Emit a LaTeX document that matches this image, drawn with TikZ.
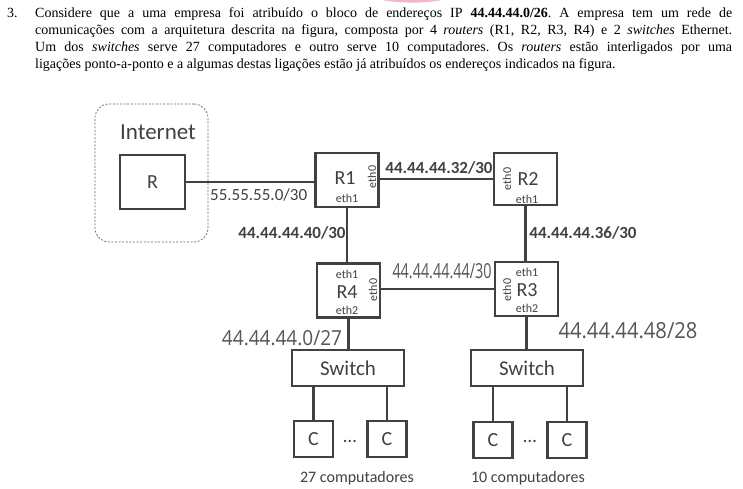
\documentclass[tikz,border=0pt]{standalone}
\usepackage{fontspec}
\setmainfont{Liberation Serif}
\newfontfamily\diag{Carlito}
\newfontfamily\hand{Open Sans}
\usetikzlibrary{positioning}
\definecolor{ink}{RGB}{65,65,65}
\definecolor{pen}{RGB}{85,85,90}
\definecolor{marker}{RGB}{232,120,170}
\frenchspacing

\tikzset{
  link/.style={draw=ink, line width=2.3pt},
  dev/.style={draw=ink, line width=2.3pt, fill=white, inner sep=0pt},
  rtr/.style={dev, minimum width=63pt, minimum height=54pt},
  comp/.style={dev, minimum width=39pt, minimum height=36pt, font=\diag\fontsize{20}{22}\selectfont, text=ink},
  sw/.style={dev, minimum width=112pt, minimum height=36pt, font=\diag\fontsize{21}{23}\selectfont, text=ink},
  rname/.style={font=\diag\fontsize{20}{22}\selectfont, text=ink, inner sep=0pt},
  port/.style={font=\diag\fontsize{12}{13}\selectfont, text=ink, inner sep=0pt},
  net/.style={font=\diag\bfseries\fontsize{17}{18}\selectfont, text=ink, inner sep=0pt},
  plainnet/.style={font=\diag\fontsize{17}{18}\selectfont, text=ink, inner sep=0pt},
  handnote/.style={text=pen, inner sep=0pt},
  caption/.style={font=\diag\fontsize{16}{17}\selectfont, text=ink, inner sep=0pt},
  txtline/.style={anchor=base west, inner sep=0pt, font=\fontsize{14}{17}\selectfont, text=black},
}

% a handwritten address, stretched to a given width and height
\newcommand\handaddr[3]{\resizebox{#1}{#2}{\hand #3}}

\begin{document}
\begin{tikzpicture}[x=1pt, y=-1pt]
\useasboundingbox[fill=white] (0,0) rectangle (743,489);

% stray highlighter stroke at the top edge
\fill[marker, opacity=0.55] (382,0) .. controls (400,3.5) and (425,3.5) .. (442,0) -- cycle;

% exercise statement
\node[txtline] (num) at (7,18) {3.};
\node[txtline] (l1) at (35,18) {\makebox[697pt][s]{Considere que a uma empresa foi atribuído o bloco de endereços IP \textbf{44.44.44.0/26}. A empresa tem um rede de}};
\node[txtline] (l2) at (35,35) {\makebox[697pt][s]{comunicações com a arquitetura descrita na figura, composta por 4 \textit{routers} (R1, R2, R3, R4) e 2 \textit{switches} Ethernet.}};
\node[txtline] (l3) at (35,52) {\makebox[697pt][s]{Um dos \textit{switches} serve 27 computadores e outro serve 10 computadores. Os \textit{routers} estão interligados por uma}};
\node[txtline] (l4) at (35,69) {ligações ponto-a-ponto e a algumas destas ligações estão já atribuídos os endereços indicados na figura.};

% Internet cloud area
\node[draw=ink!80, line width=0.7pt, dash pattern=on 2pt off 1.6pt, rounded corners=14pt,
      minimum width=113pt, minimum height=138pt, inner sep=0pt] (inet) at (151.5,173) {};
\node[font=\diag\fontsize{23}{25}\selectfont, text=ink, inner sep=0pt] (inetlbl) at (158,132) {Internet};
\node[comp, minimum width=65pt, minimum height=54pt] (R) at (152.5,182) {R};

% routers
\node[rtr] (R1) at (347,180) {};
\node[rtr, minimum width=63pt, minimum height=52pt] (R2) at (525.5,179) {};
\node[rtr] (R4) at (348.5,290.5) {};
\node[rtr] (R3) at (526.5,289) {};

\node[rname] (R1n) at (345,178) {R1};
\node[port] (R1e1) at (347,198) {eth1};
\node[port, rotate=90] (R1e0) at (372,177) {eth0};

\node[rname] (R2n) at (528,179) {R2};
\node[port] (R2e1) at (527,199) {eth1};
\node[port, rotate=90] (R2e0) at (507,179) {eth0};

\node[rname] (R4n) at (347,292) {R4};
\node[port] (R4e1) at (347,274) {eth1};
\node[port] (R4e2) at (347,310) {eth2};
\node[port, rotate=90] (R4e0) at (373,290) {eth0};

\node[rname] (R3n) at (527,290) {R3};
\node[port] (R3e1) at (527,272) {eth1};
\node[port] (R3e2) at (527,308) {eth2};
\node[port, rotate=90] (R3e0) at (507,290) {eth0};

% switches and hosts
\node[sw] (SwL) at (348,368) {Switch};
\node[sw] (SwR) at (527,368) {Switch};
\node[comp] (CL1) at (313.5,439) {C};
\node[comp] (CL2) at (387,439) {C};
\node[comp] (CR1) at (493,440) {C};
\node[comp] (CR2) at (567,440) {C};
\node[font=\diag\fontsize{19}{20}\selectfont, text=ink, inner sep=0pt] (dotsL) at (350,441) {\dots};
\node[font=\diag\fontsize{19}{20}\selectfont, text=ink, inner sep=0pt] (dotsR) at (530,441) {\dots};
\node[caption] (capL) at (357,478) {27 computadores};
\node[caption] (capR) at (528,478) {10 computadores};

% point-to-point links
\draw[link] (R.east) -- (R.east -| R1.west);
\draw[link] (R1.east |- R2.west) -- (R2.west);
\draw[link] (R1.south) -- (R1.south |- R4.north);
\draw[link] (R2.south) -- (R2.south |- R3.north);
\draw[link] (R4.east |- R3.west) -- (R3.west);
\draw[link] (R4.south) -- (R4.south |- SwL.north);
\draw[link] (R3.south) -- (R3.south |- SwR.north);
\foreach \c/\s in {CL1/SwL, CL2/SwL, CR1/SwR, CR2/SwR}
  \draw[link] (\c.north |- \s.south) -- (\c.north);

% printed network addresses
\node[plainnet, anchor=west] (n55) at (210,195) {55.55.55.0/30};
\node[net] (n32) at (439,168) {44.44.44.32/30};
\node[net] (n40) at (292,233) {44.44.44.40/30};
\node[net] (n36) at (583,233) {44.44.44.36/30};

% handwritten network addresses
\node[handnote] (h44) at (442,271) {\handaddr{99pt}{15pt}{44.44.44.44/30}};
\node[handnote] (h0) at (282,338) {\handaddr{120pt}{15pt}{44.44.44.0/27}};
\node[handnote] (h48) at (628,331) {\handaddr{139pt}{16pt}{44.44.44.48/28}};
\end{tikzpicture}
\end{document}
